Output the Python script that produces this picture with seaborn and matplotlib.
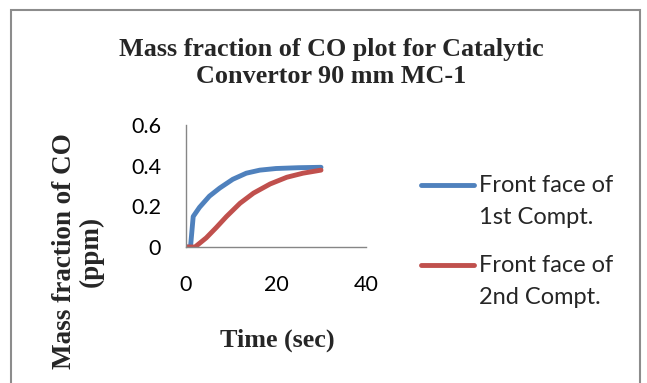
import numpy as np
import pandas as pd
import matplotlib
matplotlib.use("Agg")
import matplotlib.pyplot as plt
import seaborn as sns
from matplotlib.patches import Rectangle
from matplotlib.lines import Line2D

# data
time_1 = [0, 1, 1.6, 3, 5.2, 7.5, 10.4, 13.4, 16.4, 20, 25, 30]
co_1 = [0, 0, 0.15, 0.195, 0.25, 0.29, 0.333, 0.363, 0.378, 0.386, 0.39, 0.392]
time_2 = [0, 2, 4.5, 6.7, 9, 12, 15, 18.7, 22.4, 26, 30]
co_2 = [0, 0, 0.045, 0.095, 0.15, 0.215, 0.265, 0.31, 0.343, 0.363, 0.378]
series_names = ["Front face of\n1st Compt.", "Front face of\n2nd Compt."]
x_ticks = [0, 20, 40]
y_ticks = [0, 0.2, 0.4, 0.6]
y_tick_labels = ["0", "0.2", "0.4", "0.6"]
colors = ["#4F81BD", "#C0504D"]

df = pd.DataFrame({
    "time": time_1 + time_2,
    "co": co_1 + co_2,
    "series": [series_names[0]] * len(time_1) + [series_names[1]] * len(time_2),
})

sns.set_theme(style="white")
plt.rcParams["font.family"] = ["Lato", "DejaVu Sans"]

W, H = 647, 383
fig = plt.figure(figsize=(W / 100, H / 100), dpi=100)
fig.patch.set_facecolor("white")

def fx(px):
    return px / W

def fy(py):
    return 1 - py / H

# chart border
fig.patches.append(Rectangle((fx(10.5), -0.1), 629 / W, fy(10.5) + 0.1,
                             transform=fig.transFigure, fill=False,
                             edgecolor="#8c8c8c", linewidth=1.5))

ax = fig.add_axes([fx(186), fy(247), 180 / W, 122 / H])
sns.lineplot(data=df, x="time", y="co", hue="series", palette=colors,
             linewidth=3.5, ax=ax, legend=False, sort=False)
for ln in ax.lines:
    ln.set_solid_capstyle("round")
    ln.set_solid_joinstyle("round")

ax.set_xlim(0, 40)
ax.set_ylim(0, 0.6)
ax.set_xticks(x_ticks)
ax.set_yticks(y_ticks)
ax.set_xticklabels([str(v) for v in x_ticks])
ax.set_yticklabels(y_tick_labels)
for s in ["top", "right"]:
    ax.spines[s].set_visible(False)
for s in ["left", "bottom"]:
    ax.spines[s].set_color("#868686")
    ax.spines[s].set_linewidth(1.0)
ax.tick_params(axis="x", direction="out", length=5, width=1, color="#868686",
               pad=15, labelsize=15.5, labelcolor="black")
ax.tick_params(axis="y", direction="out", length=5, width=1, color="#868686",
               pad=13, labelsize=15.5, labelcolor="black")
ax.set_xlabel("")
ax.set_ylabel("")
ax.set_facecolor("white")

serif = "Liberation Serif"
fig.text(fx(331), fy(63), "Mass fraction of CO plot for Catalytic\nConvertor 90 mm MC-1",
         ha="center", va="center", fontsize=18.8, fontweight="bold",
         family=serif, linespacing=1.25)
fig.text(fx(277), fy(340), "Time (sec)", ha="center", va="center",
         fontsize=18.8, fontweight="bold", family=serif)
fig.text(fx(78), fy(251), "Mass fraction of CO\n(ppm)", ha="center", va="center",
         rotation=90, fontsize=19.5, fontweight="bold", family=serif,
         linespacing=1.05)

# legend (handle aligned with the first text line, as in the reference)
legend_y = [185, 265]
for c, name, yy in zip(colors, series_names, legend_y):
    fig.lines.append(Line2D([fx(421), fx(474)], [fy(yy), fy(yy)],
                            transform=fig.transFigure, color=c, linewidth=3.5,
                            solid_capstyle="round"))
    first, second = name.split("\n")
    fig.text(fx(479), fy(yy), first, ha="left", va="center", fontsize=17)
    fig.text(fx(479), fy(yy + 32), second, ha="left", va="center", fontsize=17)

fig.savefig("out.png", dpi=100, facecolor="white")
